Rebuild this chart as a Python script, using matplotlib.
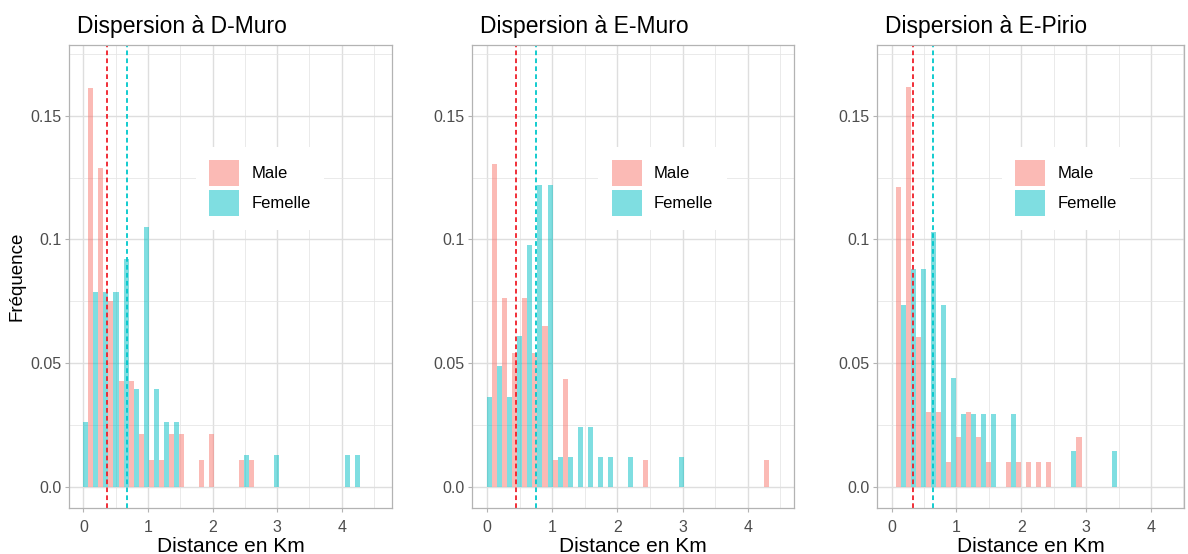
import numpy as np
import matplotlib.pyplot as plt
from matplotlib.patches import Patch

plt.rcParams['font.family'] = ['Liberation Sans', 'DejaVu Sans']

W, H = 1188, 554

titles = ['Dispersion à D-Muro', 'Dispersion à E-Muro', 'Dispersion à E-Pirio']
sexes = ['Male', 'Femelle']
col_male = '#F8766D'
col_fem = '#00BFC4'

# histogram bins (first bin centre, bin width)
bin_start = [0.0, 0.0, 0.143]
bin_width = [0.1557, 0.1547, 0.1548]

# frequency per bin
male_dmuro = [0, 0.161, 0.129, 0.0753, 0.043, 0.043, 0.0215, 0.0108, 0.0108,
              0.0215, 0.0215, 0, 0.0108, 0.0215, 0, 0, 0.0108, 0.0108]
fem_dmuro = [0.0263, 0.079, 0.079, 0.079, 0.092, 0.0395, 0.105, 0.0395, 0.0263,
             0.0263, 0, 0, 0, 0, 0, 0, 0.0132, 0, 0, 0.0132, 0, 0, 0, 0, 0, 0,
             0.0132, 0.0132]

male_emuro = [0, 0.1304, 0.0763, 0.0543, 0.0763, 0.0543, 0.0652, 0.0109, 0.0435,
              0, 0, 0, 0, 0, 0, 0, 0.0109, 0, 0, 0, 0, 0, 0, 0, 0, 0, 0, 0, 0.0109]
fem_emuro = [0.0366, 0.0488, 0.0366, 0.061, 0.0976, 0.122, 0.122, 0.0122, 0.0122,
             0.0244, 0.0244, 0.0122, 0.0122, 0, 0.0122, 0, 0, 0, 0, 0.0122]

male_epirio = [0.1212, 0.1616, 0.0606, 0.0303, 0.0303, 0.0101, 0.0202, 0.0303,
               0.0202, 0.0101, 0, 0.0101, 0.0101, 0.0101, 0.0101, 0.0101, 0, 0,
               0.0202]
fem_epirio = [0.0735, 0.0882, 0.0882, 0.1029, 0.0735, 0.0441, 0.0294, 0.0294,
              0.0294, 0.0294, 0, 0.0294, 0, 0, 0, 0, 0, 0.0147, 0, 0, 0, 0.0147]

male_freq = [male_dmuro, male_emuro, male_epirio]
fem_freq = [fem_dmuro, fem_emuro, fem_epirio]

# mean dispersion distance (dashed lines)
mean_male = [0.36, 0.444, 0.332]
mean_fem = [0.675, 0.751, 0.64]

x_ticks = [0, 1, 2, 3, 4]
y_ticks = [0.0, 0.05, 0.1, 0.15]
y_tick_labels = ['0.0', '0.05', '0.1', '0.15']

# panel boxes in pixels: left, right, top, bottom
panels = [(69.3, 391.7, 45, 508.3), (472.3, 793.5, 45, 508.3), (877.3, 1184, 45, 508.3)]
xlims = [(-0.217, 4.774), (-0.225, 4.70), (-0.22, 4.51)]
legend_x = [0.592, 0.592, 0.615]

fig = plt.figure(figsize=(W / 100, H / 100), dpi=100)

for i in range(3):
    l, r, t, b = panels[i]
    ax = fig.add_axes([l / W, 1 - b / H, (r - l) / W, (b - t) / H])
    ax.set_axisbelow(True)

    w = bin_width[i]
    cm = bin_start[i] + w * np.arange(len(male_freq[i]))
    cf = bin_start[i] + w * np.arange(len(fem_freq[i]))
    ax.bar(cm - w / 4, male_freq[i], width=w / 2, color=col_male, alpha=0.5, linewidth=0)
    ax.bar(cf + w / 4, fem_freq[i], width=w / 2, color=col_fem, alpha=0.5, linewidth=0)

    ax.axvline(mean_male[i], color='#F01E28', lw=1.3, dashes=(2.6, 1.8))
    ax.axvline(mean_fem[i], color='#00C8CC', lw=1.3, dashes=(2.6, 1.8))

    ax.set_xlim(*xlims[i])
    ax.set_ylim(-0.0085, 0.1785)
    ax.set_xticks(x_ticks)
    ax.set_xticks(np.arange(0.5, 5, 1.0), minor=True)
    ax.set_yticks(y_ticks, y_tick_labels)
    ax.set_yticks([0.025, 0.075, 0.125, 0.175], minor=True)
    ax.grid(which='major', color='#DEDEDE', lw=1.0)
    ax.grid(which='minor', color='#E6E6E6', lw=0.6)
    for s in ax.spines.values():
        s.set_color('#B3B3B3')
        s.set_linewidth(0.9)
    ax.tick_params(which='major', length=3, width=0.8, color='#B3B3B3',
                   labelcolor='#4D4D4D', labelsize=11.5, pad=2.5)
    ax.tick_params(axis='x', pad=5.5)
    ax.tick_params(which='minor', length=0)

    handles = [Patch(facecolor=col_male, alpha=0.5, linewidth=0),
               Patch(facecolor=col_fem, alpha=0.5, linewidth=0)]
    leg = ax.legend(handles, sexes, loc='center', bbox_to_anchor=(legend_x[i], 0.691),
                    frameon=True, facecolor='white', edgecolor='none', framealpha=1,
                    fancybox=False, fontsize=12, handlelength=1.8, handleheight=2.05,
                    labelspacing=0.22, handletextpad=0.75, borderpad=0.8)
    leg.set_zorder(5)

    fig.text((l + 7.4) / W, 1 - 33.3 / H, titles[i], fontsize=16.5,
             ha='left', va='baseline')
    fig.text((l + r) / 2 / W, 1 - 552 / H, 'Distance en Km', fontsize=15,
             ha='center', va='baseline')

fig.text(17 / W, 1 - 276.7 / H, 'Fréquence', fontsize=13.5, rotation=90,
         ha='center', va='center')

plt.savefig('out.png', dpi=100)
